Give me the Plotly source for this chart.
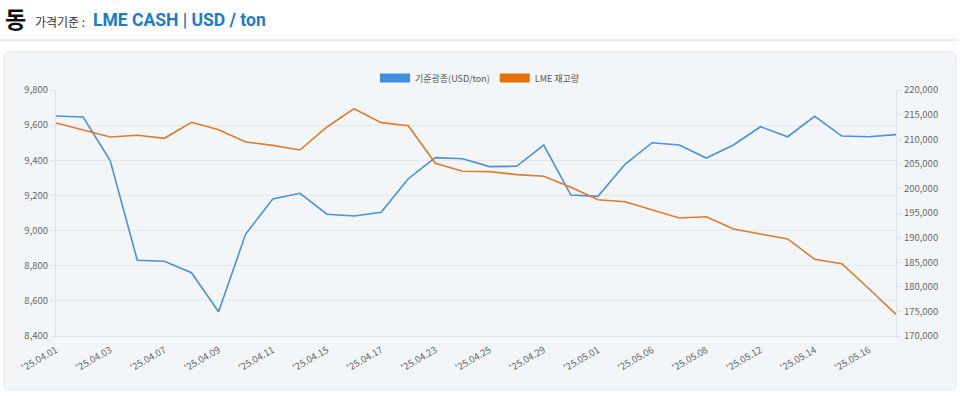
import plotly.graph_objects as go

dates = ["'25.04.01", "'25.04.02", "'25.04.03", "'25.04.04", "'25.04.07", "'25.04.08",
         "'25.04.09", "'25.04.10", "'25.04.11", "'25.04.14", "'25.04.15", "'25.04.16",
         "'25.04.17", "'25.04.22", "'25.04.23", "'25.04.24", "'25.04.25", "'25.04.28",
         "'25.04.29", "'25.04.30", "'25.05.01", "'25.05.02", "'25.05.06", "'25.05.07",
         "'25.05.08", "'25.05.09", "'25.05.12", "'25.05.13", "'25.05.14", "'25.05.15",
         "'25.05.16", "'25.05.19"]

price = [9652, 9646, 9398, 8831, 8825, 8760, 8538, 8980, 9180, 9212, 9093, 9083,
         9104, 9295, 9415, 9409, 9364, 9366, 9487, 9202, 9195, 9377, 9500, 9487,
         9413, 9487, 9591, 9534, 9650, 9538, 9534, 9546]

stock = [213290, 211870, 210450, 210790, 210180, 213430, 211940, 209430, 208750, 207800,
         212480, 216200, 213360, 212750, 205100, 203480, 203410, 202800, 202460, 200220,
         197700, 197300, 195670, 193980, 194250, 191750, 190730, 189720, 185590, 184700,
         179610, 174410]

tick_labels = dates[::2]

name_price = "기준광종(USD/ton)"
name_stock = "LME 재고량"
c_blue = "#4a92db"
c_orange = "#e07b2a"
sw_blue = "#3d8fe0"
sw_orange = "#e8700a"
font = "Noto Sans CJK KR"

W, H = 960, 396
L, R, T, B = 56, 896, 90, 336
def px(x):
    return (x - L) / (R - L)
def py(y):
    return (B - y) / (B - T)

fig = go.Figure()
fig.add_trace(go.Scatter(x=dates, y=price, mode="lines", line=dict(color=c_blue, width=1.6),
                         name=name_price, showlegend=False, yaxis="y"))
fig.add_trace(go.Scatter(x=dates, y=stock, mode="lines", line=dict(color=c_orange, width=1.6),
                         name=name_stock, showlegend=False, yaxis="y2"))
# legend-only swatches
fig.add_trace(go.Scatter(x=[None], y=[None], mode="lines", line=dict(color=sw_blue, width=9),
                         name=name_price, yaxis="y"))
fig.add_trace(go.Scatter(x=[None], y=[None], mode="lines", line=dict(color=sw_orange, width=9),
                         name=name_stock, yaxis="y2"))

# container rounded rectangle
x0, x1, y0, y1 = px(4), px(956), py(52), py(390)
rx = 6 / (R - L)
ry = 6 / (B - T)
path = (f"M {x0+rx},{y0} L {x1-rx},{y0} Q {x1},{y0} {x1},{y0-ry} "
        f"L {x1},{y1+ry} Q {x1},{y1} {x1-rx},{y1} L {x0+rx},{y1} Q {x0},{y1} {x0},{y1+ry} "
        f"L {x0},{y0-ry} Q {x0},{y0} {x0+rx},{y0} Z")
shapes = [
    dict(type="path", xref="paper", yref="paper", path=path, fillcolor="#f3f6f9",
         line=dict(color="#e3e6ea", width=1), layer="below"),
    dict(type="line", xref="paper", yref="paper", x0=px(0), x1=px(958), y0=py(40), y1=py(40),
         line=dict(color="#dcdcdc", width=1)),
]

annotations = [
    dict(xref="paper", yref="paper", x=px(3), y=py(18), xanchor="left", yanchor="middle",
         text="<b>동</b>", showarrow=False, font=dict(family=font, size=23, color="#111111")),
    dict(xref="paper", yref="paper", x=px(33), y=py(21), xanchor="left", yanchor="middle",
         text="가격기준 : ", showarrow=False, font=dict(family=font, size=12, color="#333333")),
    dict(xref="paper", yref="paper", x=px(91), y=py(20), xanchor="left", yanchor="middle",
         text="<b>LME CASH | USD / ton</b>", showarrow=False,
         font=dict(family="Roboto, " + font, size=17.5, color="#1a7ccc")),
]

fig.update_layout(
    width=W, height=H,
    margin=dict(l=L, r=W - R, t=T, b=H - B),
    paper_bgcolor="white", plot_bgcolor="#f3f6f9",
    font=dict(family=font, size=10, color="#666666"),
    showlegend=True,
    legend=dict(orientation="h", x=px(480), y=py(78), xanchor="center", yanchor="middle",
                font=dict(family=font, size=9, color="#555555"), bgcolor="rgba(0,0,0,0)",
                itemwidth=30),
    xaxis=dict(type="category", range=[0, len(dates) - 1], tickmode="array",
               tickvals=tick_labels, ticktext=tick_labels, tickangle=-30,
               showgrid=False, showline=True, linecolor="#dfe3e8", zeroline=False,
               ticks="outside", ticklen=4, tickcolor="rgba(0,0,0,0)",
               tickfont=dict(size=9.5, color="#666666")),
    yaxis=dict(range=[8400, 9800], dtick=200, tickformat=",", showgrid=True,
               gridcolor="#e4e7eb", showline=True, linecolor="#dfe3e8",
               ticks="outside", ticklen=5, tickcolor="#dfe3e8", zeroline=False,
               tickfont=dict(size=9.5, color="#666666")),
    yaxis2=dict(range=[170000, 220000], dtick=5000, tickformat=",", overlaying="y",
                side="right", showgrid=False, showline=True, linecolor="#dfe3e8",
                ticks="outside", ticklen=5, tickcolor="#dfe3e8", zeroline=False,
                tickfont=dict(size=9.5, color="#666666")),
    shapes=shapes, annotations=annotations,
)

fig.write_html("out.html", config={"displayModeBar": False},
               post_script="document.body.style.margin='0';")
